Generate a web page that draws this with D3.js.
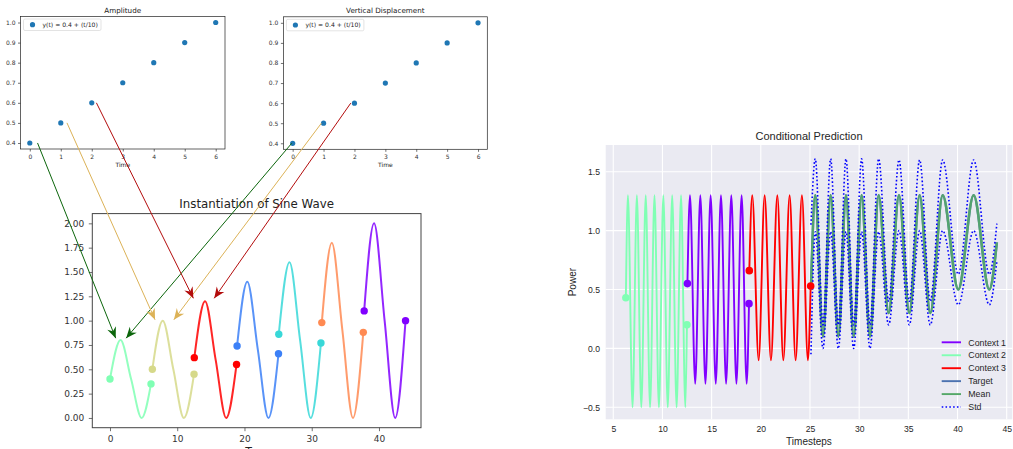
<!DOCTYPE html>
<html>
<head>
<meta charset="utf-8">
<script src="https://cdn.jsdelivr.net/npm/d3@7"></script>
<style>
  html, body { margin: 0; padding: 0; background: #fff; }
  svg { display: block; }
</style>
</head>
<body>
<svg></svg>
<script>
"use strict";

const width = 1013;
const height = 449;

// ---- top scatter panels (Amplitude / Vertical Displacement) ----
const timeSteps = [0, 1, 2, 3, 4, 5, 6];
const amplitudeVals = [0.4, 0.5, 0.6, 0.7, 0.8, 0.9, 1.0];
const displacementVals = [0.4, 0.5, 0.6, 0.7, 0.8, 0.9, 1.0];
const scatterYTicks = [0.4, 0.5, 0.6, 0.7, 0.8, 0.9, 1.0];
const scatterLegend = "y(t) = 0.4 + (t/10)";

// ---- Instantiation of Sine Wave : one segment per colour ----
const segColors = ["#80ffb4", "#d6d98a", "#ff0000", "#3c80f7", "#38d8d8", "#ff8a52", "#8000ff"];
const segStartT = [0, 6.3, 12.54, 18.9, 25.1, 31.5, 37.8];
const segStartY = [0.4, 0.5, 0.62, 0.74, 0.86, 0.98, 1.1];
const segPeakT = [1.57, 7.85, 14.14, 20.42, 26.7, 32.99, 39.27];
const segPeakY = [0.8, 1.0, 1.2, 1.4, 1.6, 1.8, 2.0];
const segMidT = [3.14, 9.42, 15.71, 21.99, 28.27, 34.56, 40.84];
const segMidY = [0.4, 0.5, 0.6, 0.7, 0.8, 0.9, 1.0];
const segTroughT = [4.71, 10.99, 17.28, 23.56, 29.85, 36.13, 42.41];
const segTroughY = [0, 0, 0, 0, 0, 0, 0];
const segEndT = [6.1, 12.5, 18.82, 25.06, 31.37, 37.67, 43.95];
const segEndY = [0.35, 0.45, 0.55, 0.66, 0.77, 0.88, 1.0];
const sineXTicks = [0, 10, 20, 30, 40];
const sineYTicks = [0, 0.25, 0.5, 0.75, 1.0, 1.25, 1.5, 1.75, 2.0];

// arrows: point of a top panel -> point on the sine plot
const arrowColors = ["#0b650b", "#dcb257", "#b30c0c"];
const arrowAmpX = [0.25, 1.2, 2.15];
const arrowVdX = [-0.03, 0.93, 1.88];
const arrowFromY = [0.4, 0.5, 0.6];
const arrowAmpToT = [0.85, 6.7, 12.4];
const arrowVdToT = [2.4, 9.5, 15.5];
const arrowToY = [0.82, 1.01, 1.23];

// ---- Conditional Prediction (peaks / troughs) ----
const ctx2T = [6.28, 6.49, 6.96, 7.4, 7.85, 8.3, 8.74, 9.19, 9.64, 10.09, 10.54, 10.99, 11.44, 11.89, 12.33, 12.49];
const ctx2V = [0.43, 1.3, -0.5, 1.3, -0.5, 1.3, -0.5, 1.3, -0.5, 1.3, -0.5, 1.3, -0.5, 1.3, -0.5, 0.2];
const ctx1T = [12.54, 12.8, 13.33, 13.85, 14.37, 14.9, 15.42, 15.95, 16.47, 17.0, 17.52, 18.05, 18.56, 18.8];
const ctx1V = [0.55, 1.3, -0.3, 1.3, -0.3, 1.3, -0.3, 1.3, -0.3, 1.3, -0.3, 1.3, -0.3, 0.38];
const ctx3T = [18.83, 19.13, 19.78, 20.39, 21.03, 21.68, 22.29, 22.93, 23.54, 24.18, 24.79, 25.07];
const ctx3V = [0.66, 1.3, -0.1, 1.3, -0.1, 1.3, -0.1, 1.3, -0.1, 1.3, -0.1, 0.53];
const meanT = [25.1, 25.54, 26.32, 27.1, 27.88, 28.66, 29.44, 30.25, 31.1, 31.98, 33.0, 34.05, 35.1, 36.15, 37.23, 38.49, 40.08, 41.64, 43.23, 44.0];
const meanV = [0.5, 1.3, 0.1, 1.3, 0.1, 1.3, 0.1, 1.3, 0.1, 1.3, 0.3, 1.3, 0.3, 1.3, 0.3, 1.3, 0.5, 1.3, 0.5, 0.9];
const stdV = [0.55, 0.31, 0.1, 0.31, 0.1, 0.31, 0.1, 0.31, 0.1, 0.31, 0.1, 0.3, 0.1, 0.3, 0.1, 0.3, 0.13, 0.3, 0.13, 0.16];
// target is hidden underneath the mean in the picture
const targetV = meanV;
const cpXTicks = [5, 10, 15, 20, 25, 30, 35, 40, 45];
const cpYTicks = [-0.5, 0, 0.5, 1.0, 1.5];
const cpLegend = ["Context 1", "Context 2", "Context 3", "Target", "Mean", "Std"];
const cpColors = ["#8000ff", "#80ffb4", "#ff0000", "#4c72b0", "#55a868", "#0000ff"];

const svg = d3.select("svg").attr("width", width).attr("height", height);

const zip = (a, b) => a.map((v, i) => [v, b[i]]);

const styleAxis = (g, size, family, color) => {
  g.select(".domain").remove();
  g.selectAll("text")
    .attr("font-size", size)
    .attr("font-family", family)
    .attr("fill", color);
  g.selectAll("line").attr("stroke", color).attr("stroke-width", 0.7);
};

// ----------------------------------------------------------------
const drawScatterPanel = (title, values, xScale, yScale) => {
  const [x0, x1] = xScale.range();
  const [y1, y0] = yScale.range();
  const g = svg.append("g");
  const font = "DejaVu Sans, sans-serif";

  const xa = g.append("g")
    .attr("transform", `translate(0,${y1})`)
    .call(d3.axisBottom(xScale).tickValues(timeSteps).tickSize(2.5).tickPadding(3).tickFormat(d3.format("d")));
  styleAxis(xa, 6, font, "#333");
  const ya = g.append("g")
    .attr("transform", `translate(${x0},0)`)
    .call(d3.axisLeft(yScale).tickValues(scatterYTicks).tickSize(2.5).tickPadding(2.5).tickFormat(d3.format(".1f")));
  styleAxis(ya, 6, font, "#333");

  g.append("rect")
    .attr("x", x0).attr("y", y0)
    .attr("width", x1 - x0).attr("height", y1 - y0)
    .attr("fill", "none").attr("stroke", "#222").attr("stroke-width", 0.7);

  g.selectAll("circle.pt")
    .data(zip(timeSteps, values))
    .enter()
    .append("circle")
    .attr("class", "pt")
    .attr("cx", (d) => xScale(d[0]))
    .attr("cy", (d) => yScale(d[1]))
    .attr("r", 2.6)
    .attr("fill", "#1f77b4");

  g.append("text")
    .attr("x", (x0 + x1) / 2).attr("y", y0 - 4)
    .attr("text-anchor", "middle")
    .attr("font-family", font).attr("font-size", 7.2).attr("fill", "#222")
    .text(title);
  g.append("text")
    .attr("x", (x0 + x1) / 2).attr("y", y1 + 17.5)
    .attr("text-anchor", "middle")
    .attr("font-family", font).attr("font-size", 6).attr("fill", "#222")
    .text("Time");

  // legend
  g.append("rect")
    .attr("x", x0 + 3).attr("y", y0 + 2.5)
    .attr("width", 77.5).attr("height", 11.5).attr("rx", 1.5)
    .attr("fill", "#fff").attr("stroke", "#d0d0d0").attr("stroke-width", 0.6);
  g.append("circle")
    .attr("cx", x0 + 12).attr("cy", y0 + 8.2).attr("r", 2.6).attr("fill", "#1f77b4");
  g.append("text")
    .attr("x", x0 + 22).attr("y", y0 + 10.3)
    .attr("font-family", font).attr("font-size", 6.1).attr("fill", "#222")
    .text(scatterLegend);
};

const ampX = d3.scaleLinear().domain([-0.3, 6.3]).range([20.5, 225]);
const ampY = d3.scaleLinear().domain([0.37, 1.03]).range([149, 16.5]);
const vdX = d3.scaleLinear().domain([-0.3, 6.3]).range([283.4, 487.3]);
const vdY = d3.scaleLinear().domain([0.37, 1.03]).range([149.3, 16.8]);

// ----------------------------------------------------------------
const sineX = d3.scaleLinear().domain([-2.63, 46.25]).range([92.3, 421]);
const sineY = d3.scaleLinear().domain([-0.1, 2.1]).range([427.7, 213.6]);

const drawSinePanel = () => {
  const g = svg.append("g");
  const font = "DejaVu Sans, sans-serif";
  const [x0, x1] = sineX.range();
  const [y1, y0] = sineY.range();

  const xa = g.append("g")
    .attr("transform", `translate(0,${y1})`)
    .call(d3.axisBottom(sineX).tickValues(sineXTicks).tickSize(3.5).tickPadding(4.5).tickFormat(d3.format("d")));
  styleAxis(xa, 9, font, "#333");
  const ya = g.append("g")
    .attr("transform", `translate(${x0},0)`)
    .call(d3.axisLeft(sineY).tickValues(sineYTicks).tickSize(3.5).tickPadding(4.5).tickFormat(d3.format(".2f")));
  styleAxis(ya, 9, font, "#333");

  g.append("rect")
    .attr("x", x0).attr("y", y0)
    .attr("width", x1 - x0).attr("height", y1 - y0)
    .attr("fill", "none").attr("stroke", "#444").attr("stroke-width", 1);

  const line = d3.line()
    .x((d) => sineX(d[0]))
    .y((d) => sineY(d[1]))
    .curve(d3.curveMonotoneX);

  segColors.forEach((c, i) => {
    const pts = [
      [segStartT[i], segStartY[i]],
      [segPeakT[i], segPeakY[i]],
      [segMidT[i], segMidY[i]],
      [segTroughT[i], segTroughY[i]],
      [segEndT[i], segEndY[i]],
    ];
    g.append("path")
      .attr("d", line(pts))
      .attr("fill", "none")
      .attr("stroke", c)
      .attr("stroke-opacity", 0.85)
      .attr("stroke-width", 2);
    g.selectAll(null)
      .data([pts[0], pts[4]])
      .enter()
      .append("circle")
      .attr("cx", (d) => sineX(d[0]))
      .attr("cy", (d) => sineY(d[1]))
      .attr("r", 3.7)
      .attr("fill", c);
  });

  g.append("text")
    .attr("x", (x0 + x1) / 2).attr("y", y0 - 5.8)
    .attr("text-anchor", "middle")
    .attr("font-family", font).attr("font-size", 11.8).attr("fill", "#222")
    .text("Instantiation of Sine Wave");
  // x label, cut off by the bottom of the image
  g.append("text")
    .attr("x", (x0 + x1) / 2 - 8).attr("y", 455)
    .attr("text-anchor", "middle")
    .attr("font-family", font).attr("font-size", 11).attr("fill", "#222")
    .text("T");
};

// ----------------------------------------------------------------
const drawArrows = () => {
  const defs = svg.append("defs");
  arrowColors.forEach((c, i) => {
    defs.append("marker")
      .attr("id", `head${i}`)
      .attr("markerUnits", "userSpaceOnUse")
      .attr("viewBox", "-12 -6 13 12")
      .attr("markerWidth", 13).attr("markerHeight", 12)
      .attr("refX", 0).attr("refY", 0)
      .attr("orient", "auto")
      .append("path")
      .attr("d", "M0,0 L-11,-4.6 L-7.5,0 L-11,4.6 Z")
      .attr("fill", c);
  });
  const g = svg.append("g");
  arrowColors.forEach((c, i) => {
    g.append("line")
      .attr("x1", ampX(arrowAmpX[i])).attr("y1", ampY(arrowFromY[i]))
      .attr("x2", sineX(arrowAmpToT[i])).attr("y2", sineY(arrowToY[i]))
      .attr("stroke", c).attr("stroke-width", 1)
      .attr("marker-end", `url(#head${i})`);
    g.append("line")
      .attr("x1", vdX(arrowVdX[i])).attr("y1", vdY(arrowFromY[i]))
      .attr("x2", sineX(arrowVdToT[i])).attr("y2", sineY(arrowToY[i]))
      .attr("stroke", c).attr("stroke-width", 1)
      .attr("marker-end", `url(#head${i})`);
  });
};

// ----------------------------------------------------------------
const cpX = d3.scaleLinear().domain([4.23, 45.57]).range([605.7, 1012.3]);
const cpY = d3.scaleLinear().domain([-0.602, 1.727]).range([419.3, 145]);

const drawConditionalPanel = () => {
  const g = svg.append("g");
  const font = "Liberation Sans, Arial, sans-serif";
  const [x0, x1] = cpX.range();
  const [y1, y0] = cpY.range();

  g.append("rect")
    .attr("x", x0).attr("y", y0)
    .attr("width", x1 - x0).attr("height", y1 - y0)
    .attr("fill", "#eaeaf2");

  g.selectAll(null).data(cpXTicks).enter().append("line")
    .attr("x1", (d) => cpX(d)).attr("x2", (d) => cpX(d))
    .attr("y1", y0).attr("y2", y1)
    .attr("stroke", "#fff").attr("stroke-width", 1.1);
  g.selectAll(null).data(cpYTicks).enter().append("line")
    .attr("y1", (d) => cpY(d)).attr("y2", (d) => cpY(d))
    .attr("x1", x0).attr("x2", x1)
    .attr("stroke", "#fff").attr("stroke-width", 1.1);

  const xa = g.append("g")
    .attr("transform", `translate(0,${y1})`)
    .call(d3.axisBottom(cpX).tickValues(cpXTicks).tickSize(0).tickPadding(7).tickFormat(d3.format("d")));
  styleAxis(xa, 8.6, font, "#262626");
  const ya = g.append("g")
    .attr("transform", `translate(${x0},0)`)
    .call(d3.axisLeft(cpY).tickValues(cpYTicks).tickSize(0).tickPadding(5.7).tickFormat(d3.format(".1f")));
  styleAxis(ya, 8.6, font, "#262626");

  const line = d3.line()
    .x((d) => cpX(d[0]))
    .y((d) => cpY(d[1]))
    .curve(d3.curveMonotoneX);

  const contexts = [
    [zip(ctx2T, ctx2V), cpColors[1]],
    [zip(ctx1T, ctx1V), cpColors[0]],
    [zip(ctx3T, ctx3V), cpColors[2]],
  ];
  contexts.forEach(([pts, c]) => {
    g.append("path")
      .attr("d", line(pts))
      .attr("fill", "none")
      .attr("stroke", c)
      .attr("stroke-width", 1.9);
  });

  g.append("path")
    .attr("d", line(zip(meanT, targetV)))
    .attr("fill", "none").attr("stroke", cpColors[3]).attr("stroke-width", 2.4);
  g.append("path")
    .attr("d", line(zip(meanT, meanV)))
    .attr("fill", "none").attr("stroke", cpColors[4]).attr("stroke-width", 2.6)
    .attr("stroke-opacity", 0.9);

  const upper = meanT.map((t, i) => [t, meanV[i] + stdV[i]]);
  const lower = meanT.map((t, i) => [t, meanV[i] - stdV[i]]);
  [upper, lower].forEach((pts) => {
    g.append("path")
      .attr("d", line(pts))
      .attr("fill", "none")
      .attr("stroke", cpColors[5])
      .attr("stroke-width", 1.6)
      .attr("stroke-dasharray", "1.6,2.2");
  });

  contexts.forEach(([pts, c]) => {
    g.selectAll(null)
      .data([pts[0], pts[pts.length - 1]])
      .enter()
      .append("circle")
      .attr("cx", (d) => cpX(d[0]))
      .attr("cy", (d) => cpY(d[1]))
      .attr("r", 3.8)
      .attr("fill", c);
  });

  // legend
  cpLegend.forEach((name, i) => {
    const ly = 342.3 + i * 12.95;
    g.append("line")
      .attr("x1", x1 - 70.6).attr("x2", x1 - 51.3)
      .attr("y1", ly).attr("y2", ly)
      .attr("stroke", cpColors[i])
      .attr("stroke-width", i === 5 ? 1.6 : 1.9)
      .attr("stroke-dasharray", i === 5 ? "1.6,2.2" : null);
    g.append("text")
      .attr("x", x1 - 44).attr("y", ly + 3.2)
      .attr("font-family", font).attr("font-size", 8.8).attr("fill", "#262626")
      .text(name);
  });

  g.append("text")
    .attr("x", (x0 + x1) / 2).attr("y", y0 - 5)
    .attr("text-anchor", "middle")
    .attr("font-family", font).attr("font-size", 11).attr("fill", "#262626")
    .text("Conditional Prediction");
  g.append("text")
    .attr("x", (x0 + x1) / 2).attr("y", 445.3)
    .attr("text-anchor", "middle")
    .attr("font-family", font).attr("font-size", 10).attr("fill", "#262626")
    .text("Timesteps");
  g.append("text")
    .attr("transform", `translate(576.3,${(y0 + y1) / 2}) rotate(-90)`)
    .attr("text-anchor", "middle")
    .attr("font-family", font).attr("font-size", 10).attr("fill", "#262626")
    .text("Power");
};

drawConditionalPanel();
drawScatterPanel("Amplitude", amplitudeVals, ampX, ampY);
drawScatterPanel("Vertical Displacement", displacementVals, vdX, vdY);
drawSinePanel();
drawArrows();
</script>
</body>
</html>
